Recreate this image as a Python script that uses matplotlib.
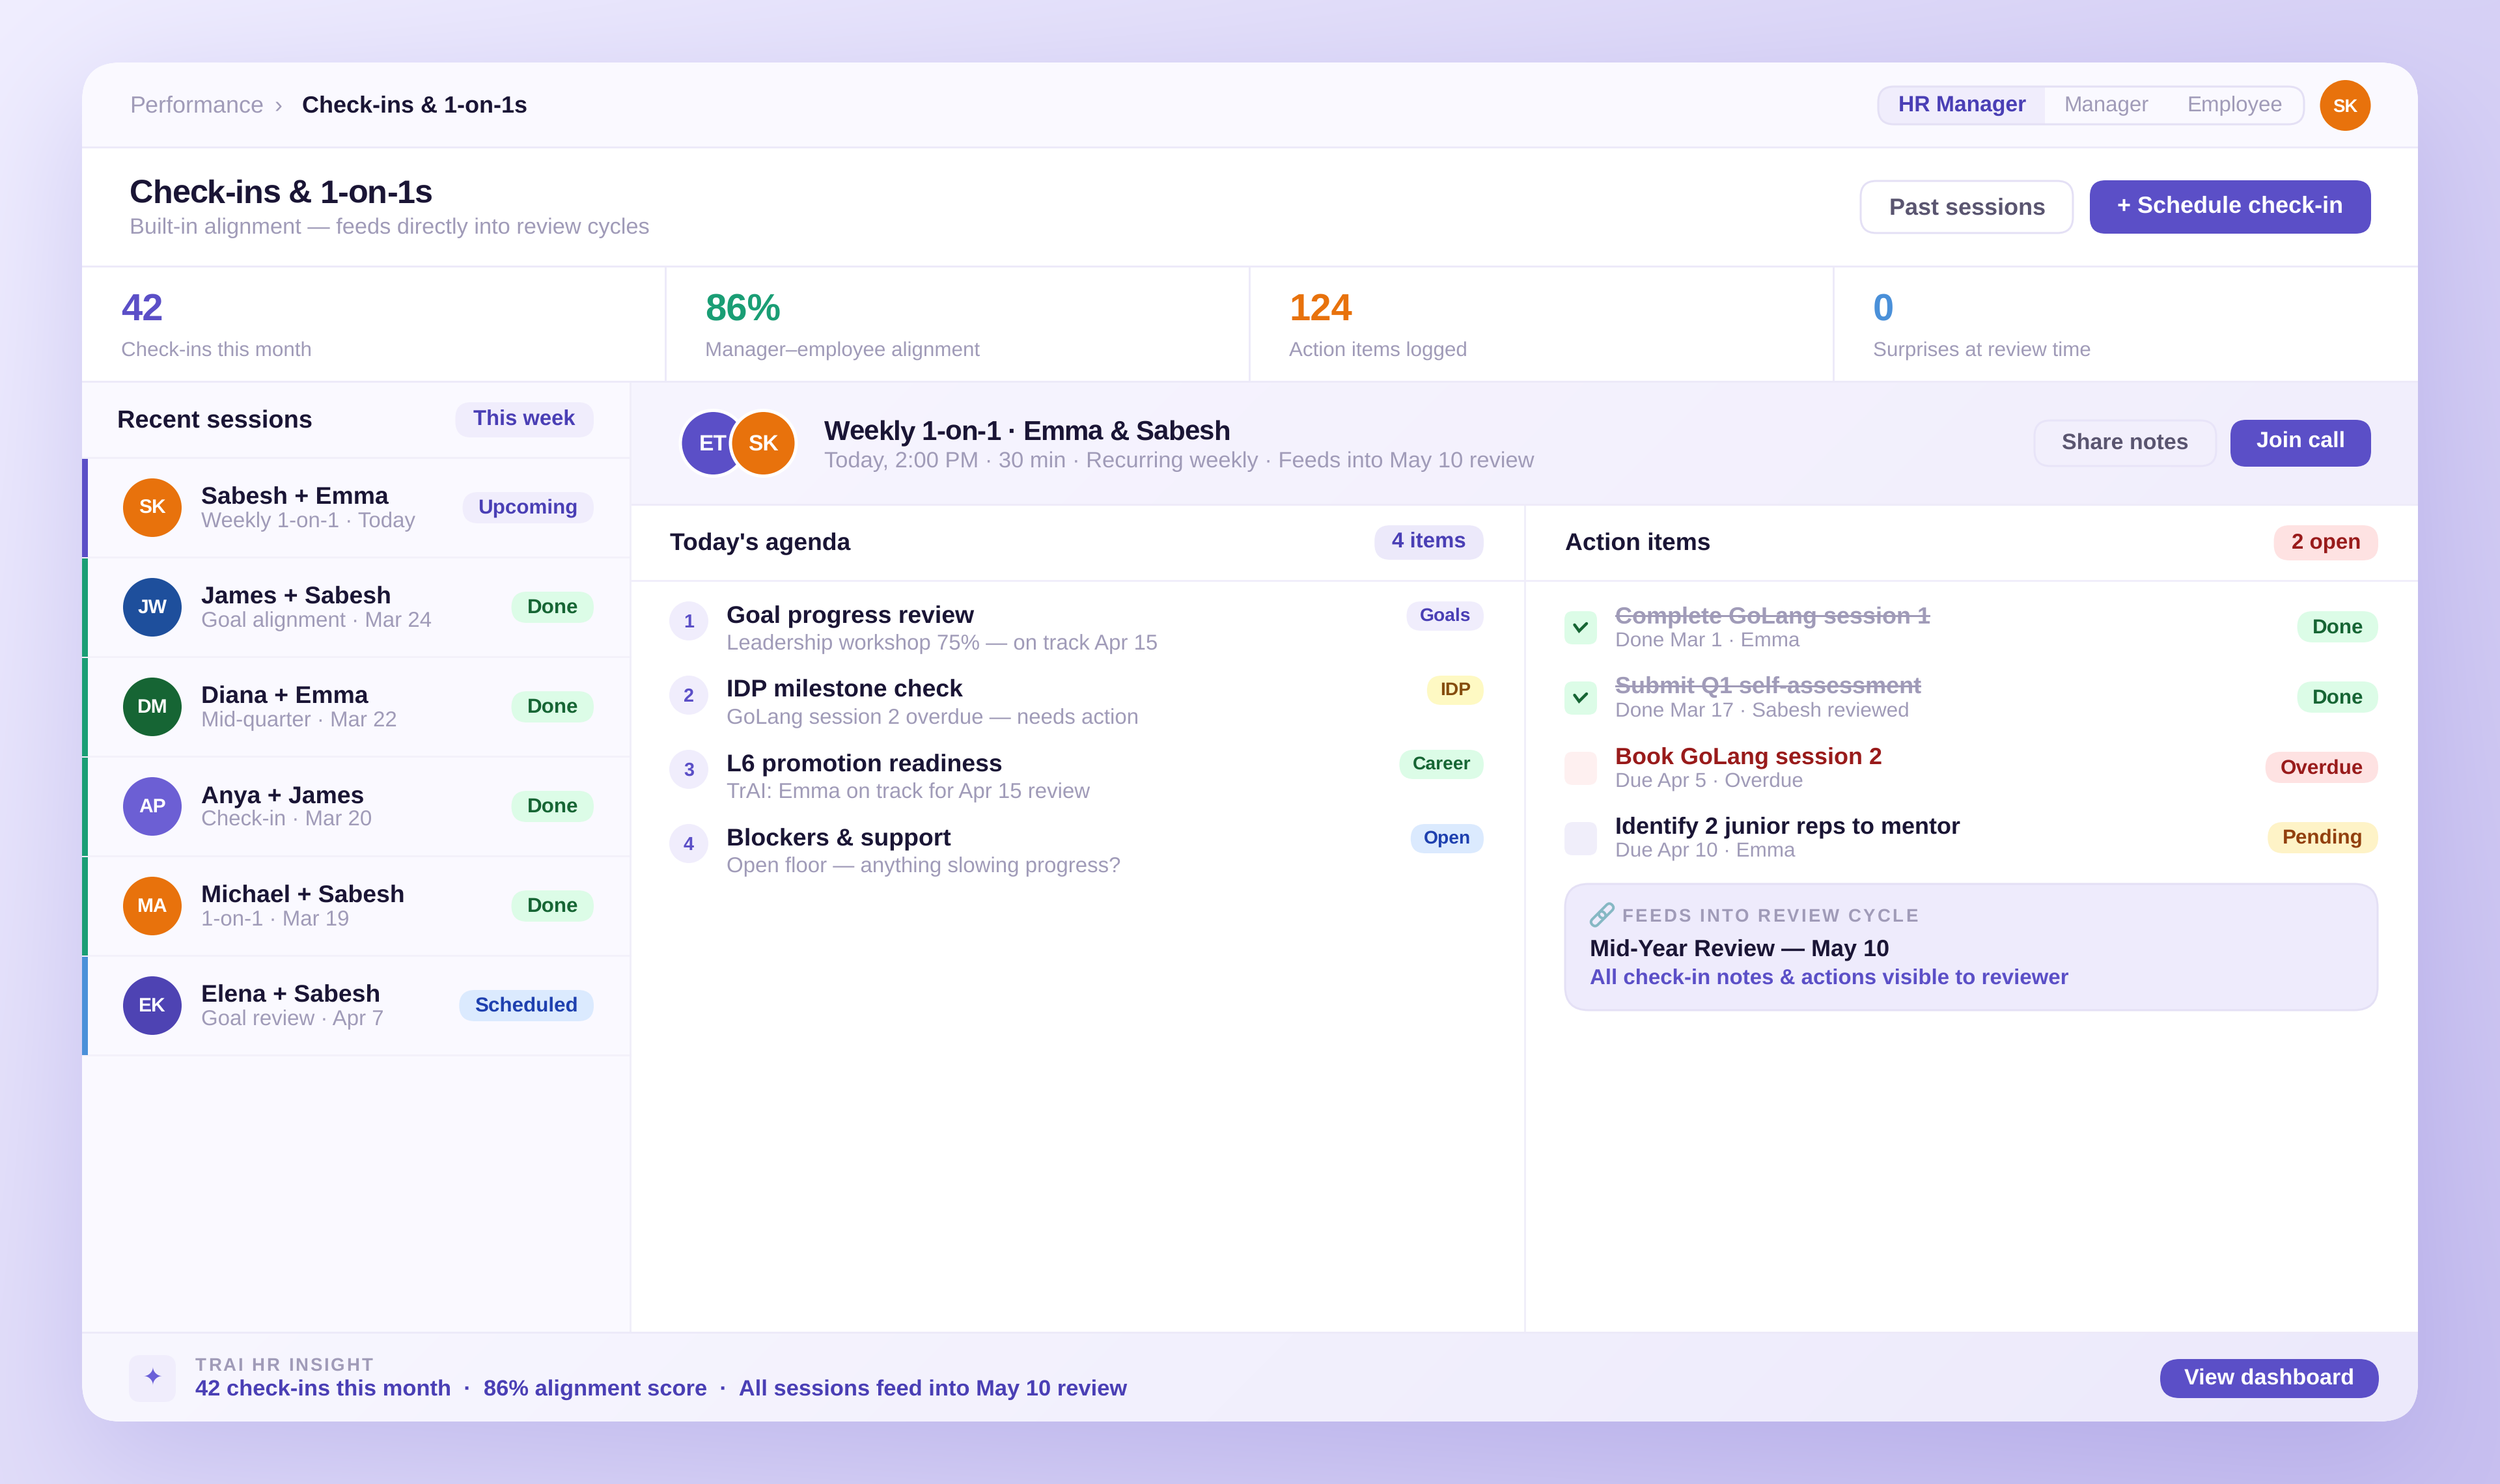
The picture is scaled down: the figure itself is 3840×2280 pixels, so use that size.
import math
import numpy as np
import matplotlib
matplotlib.use("Agg")
import matplotlib.pyplot as plt
from matplotlib.patches import FancyBboxPatch, Circle, Rectangle
from matplotlib.font_manager import FontProperties
from matplotlib.transforms import Affine2D
from matplotlib.text import Text

plt.rcParams['font.family'] = ['Liberation Sans', 'DejaVu Sans']
plt.rcParams['text.hinting'] = 'none'

# data
breadcrumb = ["Performance", "›", "Check-ins & 1-on-1s"]
roles = ["HR Manager", "Manager", "Employee"]
page_title = "Check-ins & 1-on-1s"
page_sub = "Built-in alignment — feeds directly into review cycles"

stat_values = ["42", "86%", "124", "0"]
stat_labels = ["Check-ins this month", "Manager–employee alignment", "Action items logged", "Surprises at review time"]
stat_colors = ["#5b4fc7", "#1a9e75", "#e8720c", "#4a90d9"]

session_names = ["Sabesh + Emma", "James + Sabesh", "Diana + Emma", "Anya + James", "Michael + Sabesh", "Elena + Sabesh"]
session_subs = ["Weekly 1-on-1 · Today", "Goal alignment · Mar 24", "Mid-quarter · Mar 22", "Check-in · Mar 20", "1-on-1 · Mar 19", "Goal review · Apr 7"]
session_initials = ["SK", "JW", "DM", "AP", "MA", "EK"]
session_avatars = ["#e8720c", "#1e4f9c", "#166534", "#6c5fd4", "#e8720c", "#4e43b3"]
session_status = ["Upcoming", "Done", "Done", "Done", "Done", "Scheduled"]
session_bars = ["#5b4fc7", "#1a9e75", "#1a9e75", "#1a9e75", "#1a9e75", "#4a90d9"]

meeting_title = "Weekly 1-on-1 · Emma & Sabesh"
meeting_sub = "Today, 2:00 PM · 30 min · Recurring weekly · Feeds into May 10 review"

agenda_titles = ["Goal progress review", "IDP milestone check", "L6 promotion readiness", "Blockers & support"]
agenda_subs = ["Leadership workshop 75% — on track Apr 15", "GoLang session 2 overdue — needs action",
               "TrAI: Emma on track for Apr 15 review", "Open floor — anything slowing progress?"]
agenda_tags = ["Goals", "IDP", "Career", "Open"]

action_titles = ["Complete GoLang session 1", "Submit Q1 self-assessment", "Book GoLang session 2", "Identify 2 junior reps to mentor"]
action_subs = ["Done Mar 1 · Emma", "Done Mar 17 · Sabesh reviewed", "Due Apr 5 · Overdue", "Due Apr 10 · Emma"]
action_status = ["Done", "Done", "Overdue", "Pending"]

insight_text = "42 check-ins this month  ·  86% alignment score  ·  All sessions feed into May 10 review"

# pill colours: background, text
pill_colors = {
    "Upcoming": ("#f0edfc", "#4a3fb5"), "Goals": ("#f0edfc", "#4a3fb5"), "This week": ("#f0edfc", "#4a3fb5"),
    "4 items": ("#ece9fa", "#4a3fb5"),
    "Done": ("#dcfce7", "#166534"), "Career": ("#dcfce7", "#166534"),
    "Scheduled": ("#dbeafe", "#1e40af"), "Open": ("#dbeafe", "#1e40af"),
    "IDP": ("#fef9c3", "#854d0e"), "Pending": ("#fef3c7", "#92400e"),
    "Overdue": ("#fee2e2", "#991b1b"), "2 open": ("#fee2e2", "#991b1b"),
}

DARK = "#1a1535"
GRAY = "#a09bb8"
MID = "#5a5570"
PURPLE = "#5b4fc7"
DEEP = "#4a3fb5"
LINE = "#edeaf9"

W, H = 3840, 2280
L, T, R, B = 126, 96, 3714, 2184

fig = plt.figure(figsize=(38.4, 22.8), dpi=100)
ax = fig.add_axes([0, 0, 1, 1])
ax.axis("off")
renderer = fig.canvas.get_renderer()


def hexrgb(c):
    return np.array(matplotlib.colors.to_rgb(c))


def text_w(s, px, weight="normal"):
    prop = FontProperties(family="Liberation Sans", size=px * 0.72, weight=weight)
    return renderer.get_text_width_height_descent(s, prop, False)[0]


def txt(x, y, s, px, color=DARK, weight="normal", ha="left", **kw):
    return ax.text(x, y, s, fontsize=px * 0.72, color=color, fontweight=weight, ha=ha, va="baseline", **kw)


def rect(x0, y0, x1, y1, fc, clip=True):
    p = Rectangle((x0, y0), x1 - x0, y1 - y0, fc=fc, ec="none", lw=0)
    ax.add_patch(p)
    if clip:
        p.set_clip_path(card)
    return p


def rbox(x0, y0, x1, y1, r, fc, ec="none", lw=0):
    p = FancyBboxPatch((x0, y0), x1 - x0, y1 - y0, boxstyle=f"round,pad=0,rounding_size={r}",
                       fc=fc, ec=ec, lw=lw * 0.72)
    ax.add_patch(p)
    return p


def pill(right, top, h, label, px, pad, weight="bold", base=None):
    fc, tc = pill_colors[label]
    w = text_w(label, px, weight) + 2 * pad
    rbox(right - w, top, right, top + h, min(h / 2, 24), fc)
    txt(right - w / 2, top + h / 2 + px * 0.36 if base is None else base, label, px, tc, weight, ha="center")


def gradient(x0, y0, x1, y1, c0, c1, clip):
    tt = np.linspace(0, 1, 64)
    xx, yy = np.meshgrid(tt, tt)
    g = ((xx * (x1 - x0) + yy * (y1 - y0)) / ((x1 - x0) + (y1 - y0)))[..., None]
    im = ax.imshow(hexrgb(c0) * (1 - g) + hexrgb(c1) * g, extent=(x0, x1, y1, y0), aspect="auto",
                   interpolation="bilinear", zorder=1)
    im.set_clip_path(clip)
    return im


class TrackedText(Text):
    # letter-spaced label, the browser does this with letter-spacing
    def __init__(self, *args, tracking=0, **kwargs):
        super().__init__(*args, **kwargs)
        self.tracking = tracking

    def draw(self, rend):
        s = self.get_text()
        x, y = self.get_position()
        prop = self.get_fontproperties()
        base = rend.get_text_width_height_descent("H", prop, False)[0]
        for i, ch in enumerate(s):
            adv = rend.get_text_width_height_descent(s[:i] + "H", prop, False)[0] - base if i else 0
            t = Text(x + adv + i * self.tracking, y, ch, fontproperties=prop, color=self.get_color(),
                     va="baseline", transform=self.get_transform())
            t.set_figure(self.get_figure())
            t.draw(rend)


def tracked(x, y, s, px, color, tracking):
    t = TrackedText(x, y, s, fontsize=px * 0.72, color=color, fontweight="bold", va="baseline", tracking=tracking)
    ax.add_artist(t)
    return t


# page background + soft shadow under the card
sx = (np.arange(0, W, 4) + 2.0)
sy = (np.arange(0, H, 4) + 2.0)
gx, gy = np.meshgrid(sx, sy)
bg_t = ((gx + gy) / (W + H))[..., None]
bg = hexrgb("#f0eeff") * (1 - bg_t) + hexrgb("#c8c0f0") * bg_t
sigma = 96.0
erf = np.vectorize(math.erf)
fx = 0.5 * (erf((sx - L) / (sigma * 2 ** 0.5)) - erf((sx - R) / (sigma * 2 ** 0.5)))
fy = 0.5 * (erf((sy - (T + 58)) / (sigma * 2 ** 0.5)) - erf((sy - (B + 58)) / (sigma * 2 ** 0.5)))
a = (0.21 * np.outer(fy, fx))[..., None]
bg = bg * (1 - a) + hexrgb(PURPLE) * a
ax.imshow(bg, extent=(0, W, H, 0), aspect="auto", interpolation="bilinear", zorder=0)

# card
card = rbox(L, T, R, B, 60, "#ffffff")
card.set_zorder(1)
ax.set_xlim(0, W)
ax.set_ylim(H, 0)

# top bar
rect(L, T, R, 225, "#faf9ff")
rect(L, 225, R, 228, LINE)
txt(199, 173, breadcrumb[0], 36, GRAY)
txt(421, 173, breadcrumb[1], 36, GRAY)
txt(464, 173, breadcrumb[2], 36, DARK, "bold")

rbox(2885, 133, 3539, 191, 24, "#faf9ff")
active = rect(2885, 133, 3141, 191, "#f0edfc", clip=False)
active.set_clip_path(rbox(2885, 133, 3539, 191, 24, "none"))
rbox(2885, 133, 3539, 191, 24, "none", "#e4e0f5", 3)
txt(3014, 171, roles[0], 33.6, DEEP, "bold", ha="center")
txt(3235, 171, roles[1], 33, GRAY, ha="center")
txt(3433, 171, roles[2], 33, GRAY, ha="center")
ax.add_patch(Circle((3602.5, 162), 39, fc="#e8720c", ec="none"))
txt(3602.5, 172, "SK", 27.6, "#ffffff", "bold", ha="center")

# page header
tracked(199, 311.5, page_title, 50.4, DARK, -1.05)
txt(199, 359, page_sub, 34.4, GRAY)
rbox(2858, 278, 3184, 358, 24, "#ffffff", "#e4e0f5", 3)
txt(3022, 330, "Past sessions", 36, MID, "bold", ha="center")
rbox(3210, 277, 3642, 359, 24, PURPLE)
txt(3426, 326.5, "+ Schedule check-in", 36, "#ffffff", "bold", ha="center")
rect(L, 408, R, 411, LINE)

# stats strip
stat_x = [186, 1083, 1980, 2877]
for x, val, lab, col in zip(stat_x, stat_values, stat_labels, stat_colors):
    txt(x, 492.5, val, 58, col, "bold")
    txt(x, 547, lab, 31.4, GRAY)
for x in [1021, 1918, 2815]:
    rect(x, 411, x + 2.5, 585, LINE)
rect(L, 585, R, 588, LINE)

# left panel
rect(L, 588, 967, 2046, "#faf9ff")
rect(967, 588, 970, 2046, "#f0eef9")
txt(180, 657, "Recent sessions", 38, DARK, "bold")
pill(912, 618, 54, "This week", 32.8, 28, base=654)
rect(L, 702, 967, 705, "#f1eff9")
row_h = 153
for i in range(len(session_names)):
    top = 705 + i * row_h
    rect(L, top + 150, 967, top + 153, "#f3f1fa")
    rect(L, top, 135, top + 150.5, session_bars[i])
    ax.add_patch(Circle((234, top + 75), 45, fc=session_avatars[i], ec="none"))
    txt(234, top + 84, session_initials[i], 30, "#ffffff", "bold", ha="center")
    txt(309, top + 70, session_names[i], 37.4, DARK, "bold")
    txt(309, top + 105, session_subs[i], 33, GRAY)
    pill(912, top + 51, 48, session_status[i], 31.4, 24, base=top + 84)

# session header
head = rect(970, 588, R, 774, "#f5f3fe")
gradient(970, 588, R, 774, "#f7f5ff", "#f1eefc", card)
rect(970, 774, R, 777, "#eeebf9")
for cx, init, col in [(1095.5, "ET", PURPLE), (1172.5, "SK", "#e8720c")]:
    c = Circle((cx, 681), 50.5, fc=col, ec="#ffffff", lw=5 * 0.72, zorder=3)
    ax.add_patch(c)
    txt(cx, 692.5, init, 33.6, "#ffffff", "bold", ha="center", zorder=3)
tracked(1266, 676, meeting_title, 42, DARK, -0.87).set_zorder(3)
txt(1266, 718, meeting_sub, 34.5, GRAY, zorder=3)
rbox(3125, 646, 3404, 716, 24, "#f2effc", "#e8e4f8", 3).set_zorder(3)
txt(3264, 689.5, "Share notes", 34, MID, "bold", ha="center", zorder=3)
rbox(3426, 645, 3642, 717, 24, PURPLE).set_zorder(3)
txt(3534, 687, "Join call", 34, "#ffffff", "bold", ha="center", zorder=3)

# agenda column
rect(2341, 777, 2343.5, 2046, "#f0eef9")
rect(970, 891, R, 894, "#f0eefa")
txt(1029, 845, "Today's agenda", 37.2, DARK, "bold")
pill(2279, 807, 53, "4 items", 33, 27, base=842)
for i in range(len(agenda_titles)):
    off = i * 114
    ax.add_patch(Circle((1058, 954 + off), 30, fc="#f0edfc", ec="none"))
    txt(1058, 964 + off, str(i + 1), 28.8, PURPLE, "bold", ha="center")
    txt(1116, 957 + off, agenda_titles[i], 37.4, DARK, "bold")
    txt(1116, 998.5 + off, agenda_subs[i], 33, GRAY)
    pill(2279, 924 + off, 45, agenda_tags[i], 28.3, 20, base=954 + off)

# action items column
txt(2404, 846, "Action items", 37.3, DARK, "bold")
pill(3653, 807, 54, "2 open", 33, 27, base=842)
action_colors = [GRAY, GRAY, "#991b1b", DARK]
box_colors = ["#dcfce7", "#dcfce7", "#fef0f0", "#f0eefa"]
for i in range(len(action_titles)):
    off = i * 108
    rbox(2403, 939 + off, 2453, 990 + off, 13, box_colors[i])
    if action_status[i] == "Done":
        ax.plot([2428 - 9.5, 2428 - 2.5, 2428 + 9], [960 + off, 969.5 + off, 958 + off],
                color="#166534", lw=4.5 * 0.72, solid_capstyle="round", solid_joinstyle="miter")
        w = text_w(action_titles[i], 36, "bold")
        rect(2481, 944.5 + off, 2481 + w, 947.5 + off, GRAY)
    txt(2481, 957 + off, action_titles[i], 36, action_colors[i], "bold")
    txt(2481, 993 + off, action_subs[i], 31.5, GRAY)
    pill(3653, 939 + off, 48, action_status[i], 31.4, 23, base=972.5 + off)

# review cycle box
rbox(2404, 1358, 3652, 1552, 36, "#eeebfc", "#e4e0f5", 3)
icon = Affine2D().rotate_deg_around(2461, 1405.5, -45) + ax.transData
for dx in (-8.5, 8.5):
    link = FancyBboxPatch((2461 + dx - 13, 1405.5 - 6), 26, 12, boxstyle="round,pad=0,rounding_size=6",
                          fc="none", ec="#86b8c4", lw=4 * 0.72, transform=icon)
    ax.add_patch(link)
tracked(2491.5, 1416, "FEEDS INTO REVIEW CYCLE", 27.6, GRAY, 3.2)
txt(2442, 1469, "Mid-Year Review — May 10", 36, DARK, "bold")
txt(2442, 1513, "All check-in notes & actions visible to reviewer", 33, PURPLE, "bold")

# footer
gradient(L, 2049, R, B, "#f8f7ff", "#ece9fb", card)
rect(L, 2046, R, 2049, LINE)
rbox(198, 2082, 270, 2154, 18, "#f0edfc").set_zorder(3)
ax.text(234, 2117, "✦", fontsize=38 * 0.72, color="#6a5fd8", family="DejaVu Sans", ha="center", va="center", zorder=3)
t = tracked(300, 2106, "TRAI HR INSIGHT", 27.6, GRAY, 2.9)
t.set_zorder(3)
txt(300, 2144, insight_text, 34.5, DEEP, "bold", zorder=3)
rbox(3318, 2088, 3654, 2148, 30, PURPLE).set_zorder(3)
txt(3486, 2127, "View dashboard", 34.2, "#ffffff", "bold", ha="center", zorder=3)

ax.set_xlim(0, W)
ax.set_ylim(H, 0)
fig.savefig("out.png", dpi=100)
